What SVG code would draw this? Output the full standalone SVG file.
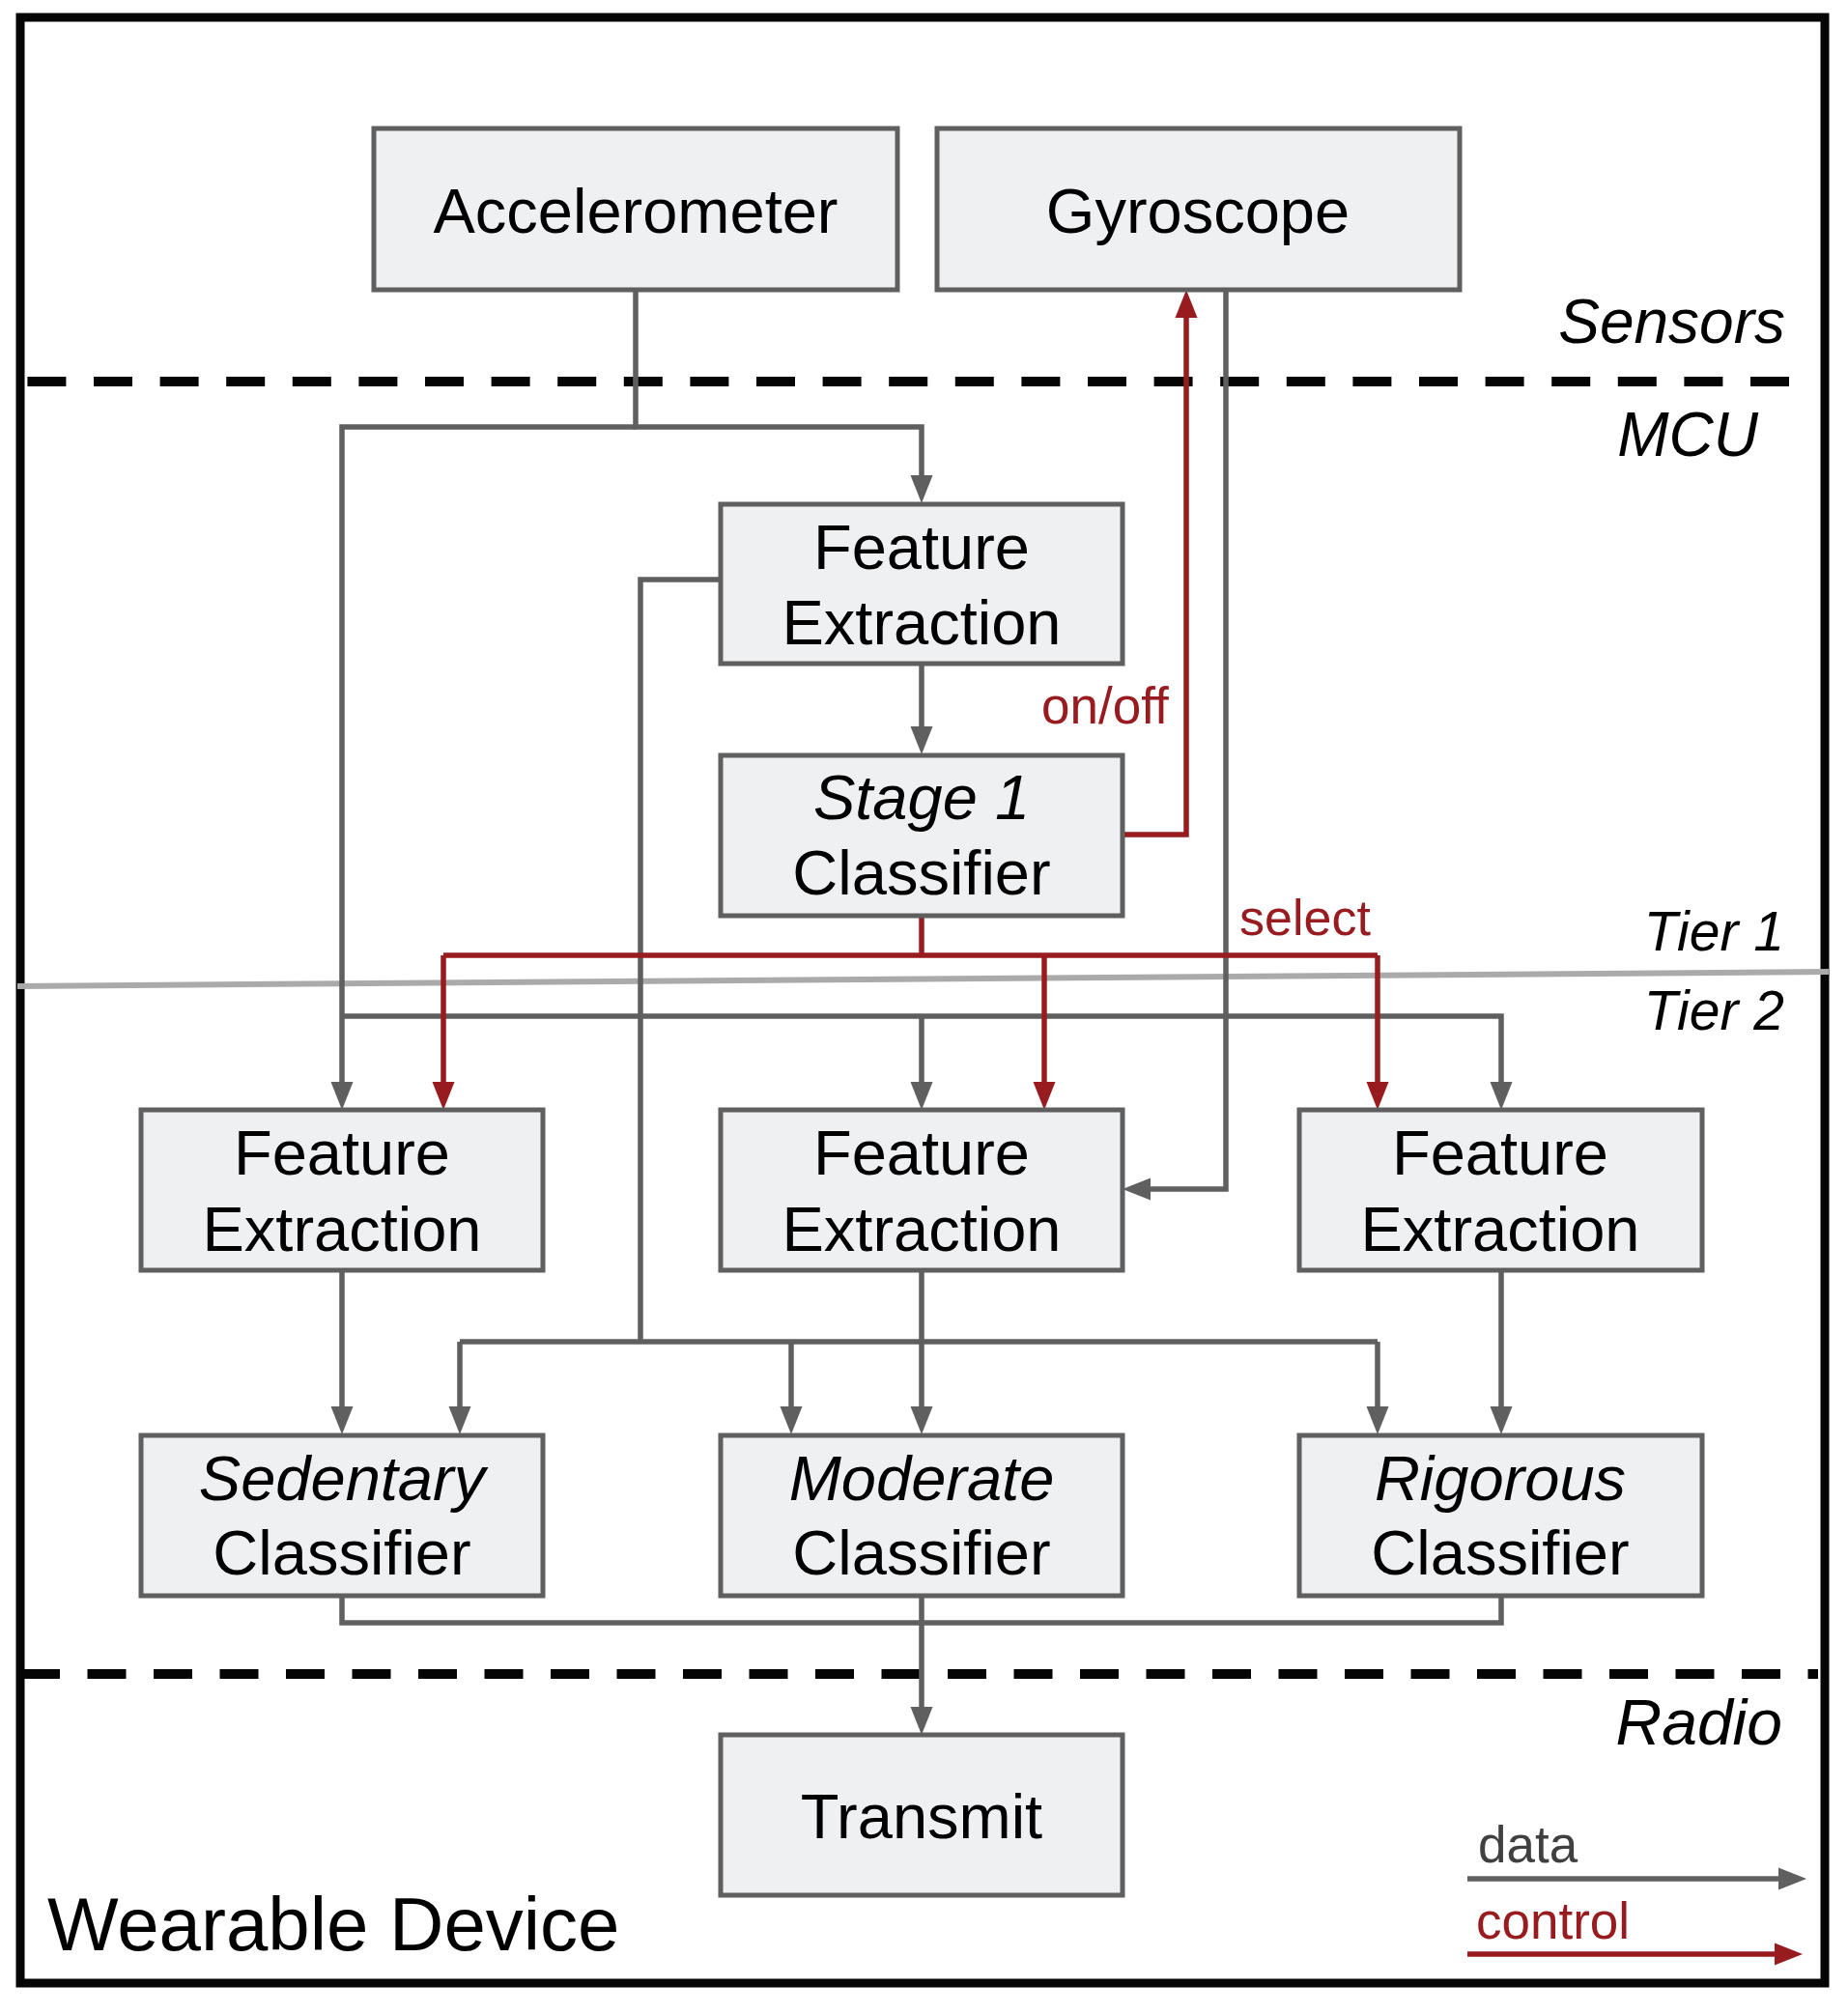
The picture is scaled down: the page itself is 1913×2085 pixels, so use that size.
<svg xmlns="http://www.w3.org/2000/svg" width="1913" height="2085" viewBox="0 0 1913 2085">
<style>
.box{fill:#eff0f2;stroke:#5f5f5f;stroke-width:5}
.t{font-family:"Liberation Sans",Arial,sans-serif;font-size:65px;fill:#000;text-anchor:middle}
.i{font-style:italic}
.lbl{font-family:"Liberation Sans",Arial,sans-serif;font-style:italic;fill:#000;text-anchor:end}
.data{fill:none;stroke:#5f5f5f;stroke-width:5.5}
.ctrl{fill:none;stroke:#981b20;stroke-width:5.5}
.dash{stroke:#050505;stroke-width:10;stroke-dasharray:40 28.6}
.red{font-family:"Liberation Sans",Arial,sans-serif;font-size:53px;fill:#981b20}
</style>
<defs>
<marker id="ag" markerUnits="userSpaceOnUse" markerWidth="30" markerHeight="24" refX="9" refY="11.5" orient="auto" viewBox="0 0 30 23">
<path d="M0,0 L29,11.5 L0,23 z" fill="#5f5f5f"/>
</marker>
<marker id="ar" markerUnits="userSpaceOnUse" markerWidth="30" markerHeight="24" refX="9" refY="11.5" orient="auto" viewBox="0 0 30 23">
<path d="M0,0 L29,11.5 L0,23 z" fill="#981b20"/>
</marker>
</defs>
<rect width="1913" height="2085" fill="#fff"/>
<rect x="21" y="18" width="1868" height="2035" fill="none" stroke="#050505" stroke-width="9"/>
<line class="dash" x1="28.4" y1="395" x2="1852" y2="395"/>
<line class="dash" x1="22" y1="1733" x2="1882" y2="1733" style="stroke-dasharray:40 28.5"/>
<line x1="18" y1="1021" x2="1893" y2="1006" stroke="#aaaaaa" stroke-width="6"/>

<g id="connectors">
<path class="data" d="M658,300 V442 H954 V501" marker-end="url(#ag)"/>
<path class="data" d="M658,442 H354 V1129" marker-end="url(#ag)"/>
<path class="data" d="M354,1052 H1554 V1129" marker-end="url(#ag)"/>
<path class="data" d="M954,1052 V1129" marker-end="url(#ag)"/>
<path class="data" d="M954,686 V761" marker-end="url(#ag)"/>
<path class="data" d="M746,600 H663 V1389"/>
<path class="data" d="M476,1389 H1426"/>
<path class="data" d="M476,1389 V1465" marker-end="url(#ag)"/>
<path class="data" d="M819,1389 V1465" marker-end="url(#ag)"/>
<path class="data" d="M1426,1389 V1465" marker-end="url(#ag)"/>
<path class="data" d="M354,1315 V1465" marker-end="url(#ag)"/>
<path class="data" d="M954,1315 V1465" marker-end="url(#ag)"/>
<path class="data" d="M1554,1315 V1465" marker-end="url(#ag)"/>
<path class="data" d="M354,1652 V1680 H1554 V1652"/>
<path class="data" d="M954,1652 V1776" marker-end="url(#ag)"/>
<path class="data" d="M1269,300 V1231 H1182" marker-end="url(#ag)"/>
<path class="ctrl" d="M1162,864 H1228 V320" marker-end="url(#ar)"/>
<path class="ctrl" d="M954,948 V989"/>
<path class="ctrl" d="M459,989 H1426"/>
<path class="ctrl" d="M459,989 V1129" marker-end="url(#ar)"/>
<path class="ctrl" d="M1081,989 V1129" marker-end="url(#ar)"/>
<path class="ctrl" d="M1426,989 V1129" marker-end="url(#ar)"/>
<path class="data" d="M1519,1945 H1850" marker-end="url(#ag)"/>
<path class="ctrl" d="M1519,2023 H1846" marker-end="url(#ar)"/>
</g>

<g id="accelerometer"><rect class="box" x="387" y="133" width="542" height="167"/><text class="t" x="658" y="241">Accelerometer</text></g>
<g id="gyroscope"><rect class="box" x="970" y="133" width="541" height="167"/><text class="t" x="1240" y="241">Gyroscope</text></g>
<g id="fe-tier1"><rect class="box" x="746" y="522" width="416" height="165"/><text class="t" x="954" y="589">Feature</text><text class="t" x="954" y="667">Extraction</text></g>
<g id="stage1"><rect class="box" x="746" y="782" width="416" height="166"/><text class="t i" x="954" y="848">Stage 1</text><text class="t" x="954" y="926">Classifier</text></g>
<g id="fe-left"><rect class="box" x="146" y="1149" width="416" height="166"/><text class="t" x="354" y="1216">Feature</text><text class="t" x="354" y="1295">Extraction</text></g>
<g id="fe-mid"><rect class="box" x="746" y="1149" width="416" height="166"/><text class="t" x="954" y="1216">Feature</text><text class="t" x="954" y="1295">Extraction</text></g>
<g id="fe-right"><rect class="box" x="1345" y="1149" width="417" height="166"/><text class="t" x="1553" y="1216">Feature</text><text class="t" x="1553" y="1295">Extraction</text></g>
<g id="sedentary"><rect class="box" x="146" y="1486" width="416" height="166"/><text class="t i" x="354" y="1553">Sedentary</text><text class="t" x="354" y="1630">Classifier</text></g>
<g id="moderate"><rect class="box" x="746" y="1486" width="416" height="166"/><text class="t i" x="954" y="1553">Moderate</text><text class="t" x="954" y="1630">Classifier</text></g>
<g id="rigorous"><rect class="box" x="1345" y="1486" width="417" height="166"/><text class="t i" x="1553" y="1553">Rigorous</text><text class="t" x="1553" y="1630">Classifier</text></g>
<g id="transmit"><rect class="box" x="746" y="1796" width="416" height="166"/><text class="t" x="954" y="1903">Transmit</text></g>

<g id="labels">
<text class="lbl" x="1848" y="355" font-size="64">Sensors</text>
<text class="lbl" x="1820" y="472" font-size="64">MCU</text>
<text class="lbl" x="1847" y="984" font-size="57">Tier 1</text>
<text class="lbl" x="1847" y="1066" font-size="57">Tier 2</text>
<text class="lbl" x="1845" y="1806" font-size="66">Radio</text>
<text x="49" y="2019" font-family="Liberation Sans, Arial, sans-serif" font-size="78" fill="#000">Wearable Device</text>
<text class="red" x="1078" y="749">on/off</text>
<text class="red" x="1283" y="968" style="font-size:52px">select</text>
<text x="1530" y="1928" font-family="Liberation Sans, Arial, sans-serif" font-size="53" fill="#404040">data</text>
<text class="red" x="1528" y="2007">control</text>
</g>
</svg>
